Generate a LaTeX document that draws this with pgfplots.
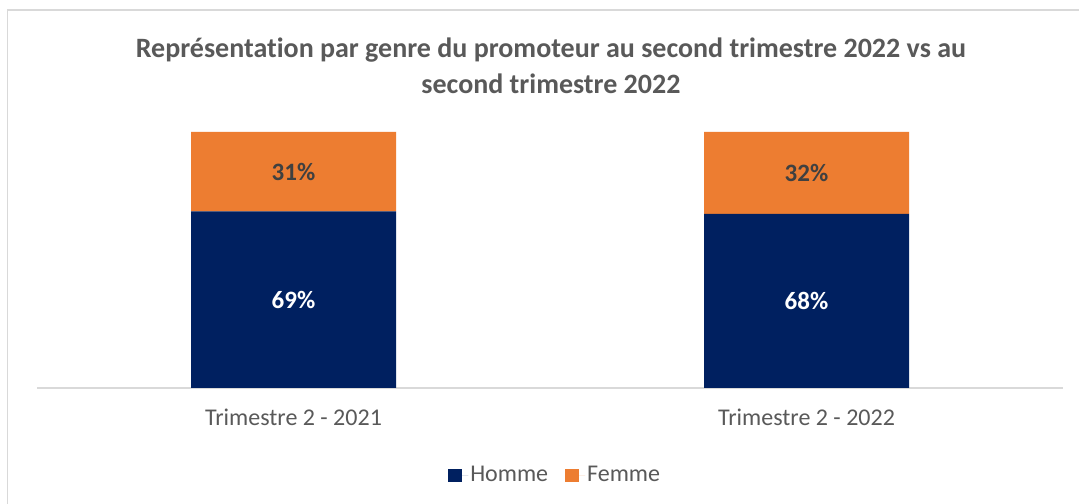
\documentclass[border=0pt]{standalone}
\usepackage{pgfplots}
\pgfplotsset{compat=1.18}
\usepackage{fontspec}
\setmainfont{Carlito}[Ligatures={NoCommon}]
\definecolor{navy}{HTML}{002060}
\definecolor{orng}{HTML}{ED7D31}
\definecolor{txt}{HTML}{595959}
\definecolor{gridc}{HTML}{D9D9D9}
\definecolor{lbl}{HTML}{404040}
\begin{document}
\begin{tikzpicture}[x=1bp,y=1bp]
\useasboundingbox (0,0) rectangle (1079,504);
\fill[white] (0,0) rectangle (1079,504);
\draw[gridc, line width=1.5bp] (7.5,-5) -- (7.5,494) -- (1090,494);
\node[align=center, font=\bfseries\fontsize{28bp}{36bp}\selectfont, text=txt] at (551,438)
  {Représentation par genre du promoteur au second trimestre 2022 vs au\\second trimestre 2022};
\begin{axis}[at={(37bp,116bp)}, anchor=south west, scale only axis,
  width=1026bp, height=256bp,
  ybar stacked, bar width=205bp,
  xmin=-0.5, xmax=1.5, ymin=0, ymax=100,
  hide y axis, axis x line*=bottom,
  x axis line style={gridc, line width=1.5bp},
  xtick={0,1}, xticklabels={Trimestre 2 - 2021, Trimestre 2 - 2022},
  major tick length=0pt,
  xticklabel style={font=\fontsize{24bp}{28bp}\selectfont, text=txt, anchor=base, yshift=-38bp},
  legend columns=2,
  legend style={draw=none, fill=none, at={(axis description cs:0.505,-0.34)}, anchor=center,
    font=\fontsize{24bp}{28bp}\selectfont, text=txt,
    /tikz/every even column/.append style={column sep=15bp}},
  legend image code/.code={\fill[#1] (0bp,-7bp) rectangle (13.5bp,6.5bp); \path (0bp,0bp) -- (20bp,0bp);},
  ]
\addplot[fill=navy, draw=none] coordinates {(0,69) (1,68)};
\addlegendentry{Homme}
\addplot[fill=orng, draw=none] coordinates {(0,31) (1,32)};
\addlegendentry{Femme}
\end{axis}
\begin{axis}[at={(37bp,116bp)}, anchor=south west, scale only axis,
  width=1026bp, height=256bp,
  xmin=-0.5, xmax=1.5, ymin=0, ymax=100, hide axis,
  nodes near coords, point meta=explicit symbolic,
  every node near coord/.append style={anchor=center, font=\bfseries\fontsize{25bp}{28bp}\selectfont},
  ]
\addplot[only marks, mark=none, every node near coord/.append style={text=white}]
  coordinates {(0,34.5)[69\%] (1,34)[68\%]};
\addplot[only marks, mark=none, every node near coord/.append style={text=lbl}]
  coordinates {(0,84.5)[31\%] (1,84)[32\%]};
\end{axis}
\end{tikzpicture}
\end{document}
